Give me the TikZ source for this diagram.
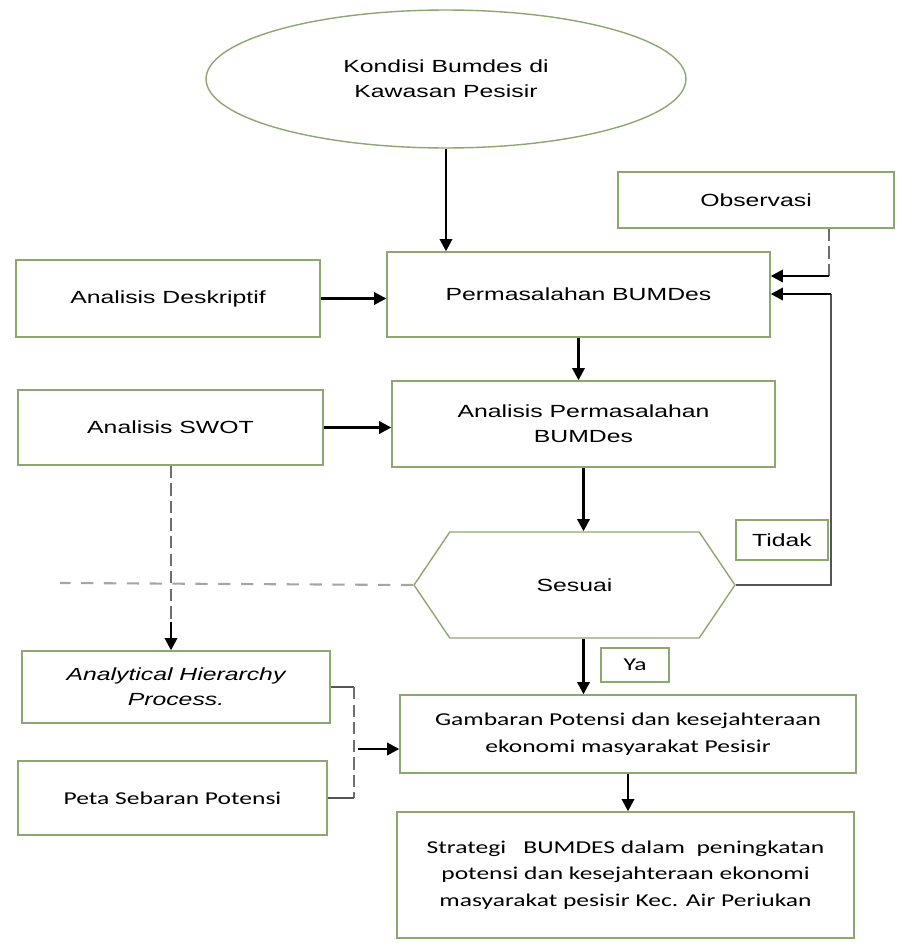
\documentclass[tikz,border=0pt]{standalone}
\usepackage{fontspec}
\setmainfont{Liberation Sans}[FakeStretch=1.41]
\newfontfamily\calib{Carlito}[FakeStretch=1.41]
\definecolor{boxgreen}{RGB}{140,168,112}
\definecolor{linegray}{RGB}{85,85,85}
\definecolor{dashgray}{RGB}{110,110,110}
\definecolor{lightdash}{RGB}{165,165,165}
\usetikzlibrary{calc, positioning, arrows.meta, shapes.geometric, shapes.symbols}

\begin{document}
\begin{tikzpicture}[x=0.02cm, y=-0.02cm,
  box/.style={draw=boxgreen, line width=0.8pt, fill=white, align=center,
    font=\fontsize{10}{14}\selectfont, inner sep=2pt},
  cbox/.style={box, font=\calib\fontsize{10.3}{15}\selectfont},
  oval/.style={box, ellipse},
  hexa/.style={box, signal, signal to=west and east, signal pointer angle=112},
  arw/.style={-{Triangle[length=7pt, width=7pt]}, line width=1.5pt, black},
  fb/.style={linegray, line width=0.8pt},
  dsh/.style={dashgray, line width=0.8pt, dash pattern=on 7pt off 3pt},
  ldsh/.style={lightdash, line width=1.2pt, dash pattern=on 7pt off 6pt},
]
\useasboundingbox (0,0) rectangle (896,943);

% ---- top: kondisi and observasi ----
\node[oval, minimum width=9.6cm, minimum height=2.76cm] (kondisi) at (446,79)
  {Kondisi Bumdes di\\Kawasan Pesisir};
\node[box, minimum width=5.52cm, minimum height=1.12cm] (obs) at (756,200)
  {Observasi};

% ---- main column ----
\node[box, minimum width=7.66cm, minimum height=1.7cm] (perm) at (578.5,294.5)
  {Permasalahan BUMDes};
\node[box, minimum width=7.66cm, minimum height=1.72cm] (apm) at (583.5,424)
  {Analisis Permasalahan\\BUMDes};
\node[hexa, minimum width=6.42cm, minimum height=2.12cm] (sesuai) at (574.5,585)
  {Sesuai};
\node[box, minimum width=1.84cm, minimum height=0.8cm] (tidak) at (782,540)
  {Tidak};
\node[cbox, minimum width=1.36cm, minimum height=0.68cm] (ya) at (635,665)
  {Ya};
\node[cbox, minimum width=9.12cm, minimum height=1.56cm] (gamb) at (628,734)
  {Gambaran Potensi dan kesejahteraan\\ekonomi masyarakat Pesisir};
\node[cbox, minimum width=9.14cm, minimum height=2.52cm] (strat) at (625.5,875)
  {Strategi \ \ BUMDES dalam \ peningkatan\\potensi dan kesejahteraan ekonomi\\masyarakat pesisir Kec. Air Periukan};

% ---- left column ----
\node[box, minimum width=6.08cm, minimum height=1.54cm] (desk) at (168,298.5)
  {Analisis Deskriptif};
\node[box, minimum width=6.1cm, minimum height=1.5cm] (swot) at (170.5,427.5)
  {Analisis SWOT};
\node[box, minimum width=6.16cm, minimum height=1.44cm] (ahp) at (176,687)
  {\itshape Analytical Hierarchy\\\itshape Process.};
\node[cbox, minimum width=6.18cm, minimum height=1.48cm] (peta) at (172.5,798)
  {Peta Sebaran Potensi};

% ---- helper points ----
\coordinate (obsdrop) at (829,276);
\coordinate (loop) at (831,294);
\coordinate (dashend) at (60,583);
\coordinate (ahpin) at (171,622);
\coordinate (brktop) at (354,687);
\coordinate (brkbot) at (354,798);
\coordinate (brkmid) at (358,749);

% ---- main flow ----
\draw[arw] (kondisi.south) -- (kondisi.south |- perm.north);
\draw[arw] (desk.east) -- (desk.east -| perm.west);
\draw[arw] (perm.south) -- (perm.south |- apm.north);
\draw[arw] (swot.east) -- (swot.east -| apm.west);
\draw[arw] (apm.south) -- (apm.south |- sesuai.north);
\draw[arw] (apm.south |- sesuai.south) -- (apm.south |- gamb.north);
\draw[arw] (gamb.south) -- (gamb.south |- strat.north);

% ---- observasi and feedback ----
\draw[dsh] (obs.south -| obsdrop) -- (obsdrop);
\draw[arw] (obsdrop) -- (obsdrop -| perm.east);
\draw[fb] (sesuai.east) -| (loop);
\draw[arw] (loop) -- (loop -| perm.east);

% ---- dashed links ----
\draw[ldsh] (sesuai.west) -- (dashend);
\draw[dsh] (swot.south -| ahpin) -- (ahpin);
\draw[arw] (ahpin) -- (ahpin |- ahp.north);
\draw[fb] (ahp.east) -- (brktop);
\draw[dsh] (brktop) -- (brkbot);
\draw[fb] (brkbot) -- (peta.east);
\draw[arw] (brkmid) -- (brkmid -| gamb.west);

\end{tikzpicture}
\end{document}
